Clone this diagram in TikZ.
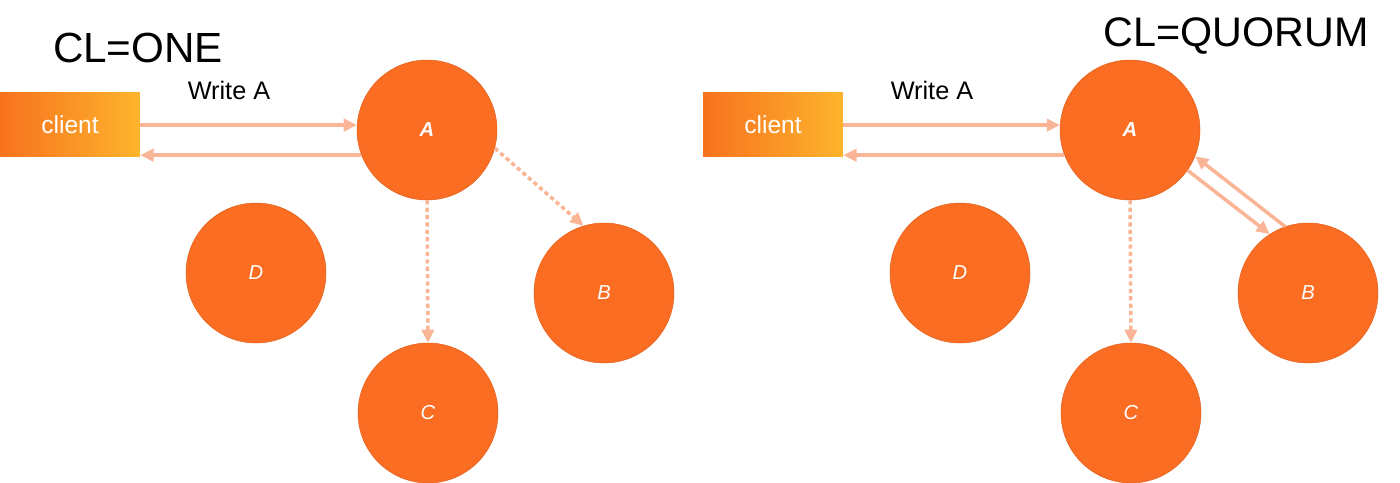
\documentclass[tikz,border=0pt]{standalone}
\usepackage{fontspec}
\setmainfont{Liberation Sans}
\usepackage{tikz}
\usetikzlibrary{arrows.meta, positioning}
\usepackage{xcolor}
\definecolor{nodeorange}{HTML}{FA6D22}
\definecolor{msgsalmon}{HTML}{F9B596}
\definecolor{clientdark}{HTML}{F8721E}
\definecolor{clientlight}{HTML}{FDB42D}
\tikzset{
  replica/.style={
    circle, fill=nodeorange, draw=nodeorange!90!black, line width=0.3pt,
    minimum size=2.8cm, inner sep=0pt, text=white,
    font=\fontsize{11.5}{13}\selectfont\itshape
  },
  clientbox/.style={
    rectangle, left color=clientdark, right color=clientlight,
    minimum width=2.8cm, minimum height=1.3cm, inner sep=0pt,
    text=white, font=\fontsize{14}{16}\selectfont
  },
  msg/.style={-{Triangle[length=7.5pt, width=7pt]}, msgsalmon, line width=2pt},
  asyncmsg/.style={msg, dash pattern=on 2.4pt off 1.8pt},
  title/.style={font=\fontsize{24}{28}\selectfont},
}

\begin{document}
\begin{tikzpicture}[x=0.02cm, y=-0.02cm]
\useasboundingbox (0,0) rectangle (1400,483);

% CL=ONE (left side)
\node[title] (t1) at (138,48) {CL=ONE};
\node[clientbox] (c1) at (70,124.5) {client};
\node[replica, font=\fontsize{11.5}{13}\selectfont\bfseries\itshape] (a1) at (427,130) {A};
\node[replica] (d1) at (256,273) {D};
\node[replica] (b1) at (604,293) {B};
\node[replica] (cc1) at (428,413) {C};
\node[font=\fontsize{14.4}{17}\selectfont] (w1) at (229,90) {Write A};

\draw[msg] (a1.176 -| c1.east) -- (a1.176);
\draw[msg] (a1.201) -- (a1.201 -| c1.east);
\draw[asyncmsg] (a1.south) -- (cc1.north);
\draw[asyncmsg] (a1.-15) -- (b1.107);

% CL=QUORUM (right side)
\node[title, font=\fontsize{23.5}{27}\selectfont] (t2) at (1236,36) {CL=QUORUM};
\node[clientbox] (c2) at (773,124.5) {client};
\node[replica, font=\fontsize{11.5}{13}\selectfont\bfseries\itshape] (a2) at (1130,130) {A};
\node[replica] (d2) at (960,273) {D};
\node[replica] (b2) at (1308,293) {B};
\node[replica] (cc2) at (1131,413) {C};
\node[font=\fontsize{14.4}{17}\selectfont] (w2) at (932,90) {Write A};

\draw[msg] (a2.176 -| c2.east) -- (a2.176);
\draw[msg] (a2.201) -- (a2.201 -| c2.east);
\draw[asyncmsg] (a2.south) -- (cc2.north);
\draw[msg] (a2.-35) -- (b2.123);
\draw[msg] (b2.109) -- (a2.-22);

\end{tikzpicture}
\end{document}
